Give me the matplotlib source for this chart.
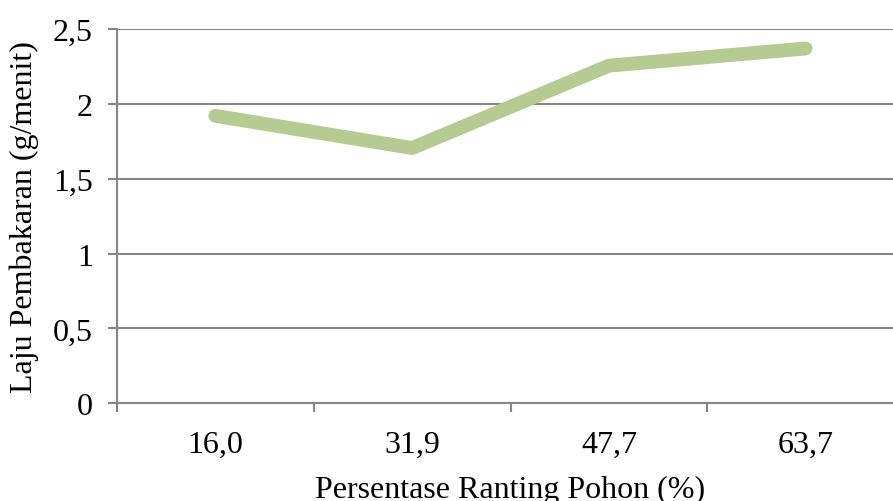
import matplotlib
matplotlib.use('Agg')
import matplotlib.pyplot as plt

# data
categories = ['16,0', '31,9', '47,7', '63,7']
laju = [1.92, 1.705, 2.255, 2.37]
y_ticks = [0, 0.5, 1, 1.5, 2, 2.5]
y_tick_labels = ['0', '0,5', '1', '1,5', '2', '2,5']

plt.rcParams['font.family'] = ['Liberation Serif', 'DejaVu Serif']

W, H = 893, 502
fig = plt.figure(figsize=(W / 100, H / 100), dpi=100)
# axes right edge runs a little past the image edge, as in the original
ax = fig.add_axes([117 / W, (H - 404.3) / H, (904 - 117) / W, (404.3 - 30) / H])

xs = range(len(categories))
ax.plot(xs, laju, color='#b5cb91', linewidth=10, solid_capstyle='round',
        solid_joinstyle='round', zorder=3)

ax.set_xlim(-0.5, len(categories) - 0.5)
ax.set_ylim(0, 2.5)
ax.set_yticks(y_ticks)
ax.set_yticklabels(y_tick_labels)
ax.set_xticks(xs)
ax.set_xticklabels(categories)
ax.set_xticks([i - 0.5 for i in range(len(categories) + 1)], minor=True)

gc = '#868686'
ax.grid(axis='y', color=gc, linewidth=1.5, zorder=1)
for s in ['top', 'right']:
    ax.spines[s].set_visible(False)
ax.spines['left'].set_color(gc)
ax.spines['left'].set_linewidth(1.5)
ax.spines['bottom'].set_color(gc)
ax.spines['bottom'].set_linewidth(1.5)

fs = 23
ax.tick_params(axis='y', length=6.5, width=1.5, color=gc, pad=11, labelsize=fs)
ax.tick_params(axis='x', which='major', length=0, pad=19, labelsize=fs)
ax.tick_params(axis='x', which='minor', length=6.5, width=1.5, color=gc)

ax.set_ylabel('Laju Pembakaran (g/menit)', fontsize=fs, labelpad=10)
ax.set_xlabel('Persentase Ranting Pohon (%)', fontsize=fs, labelpad=12)

fig.savefig('out.png', dpi=100)
